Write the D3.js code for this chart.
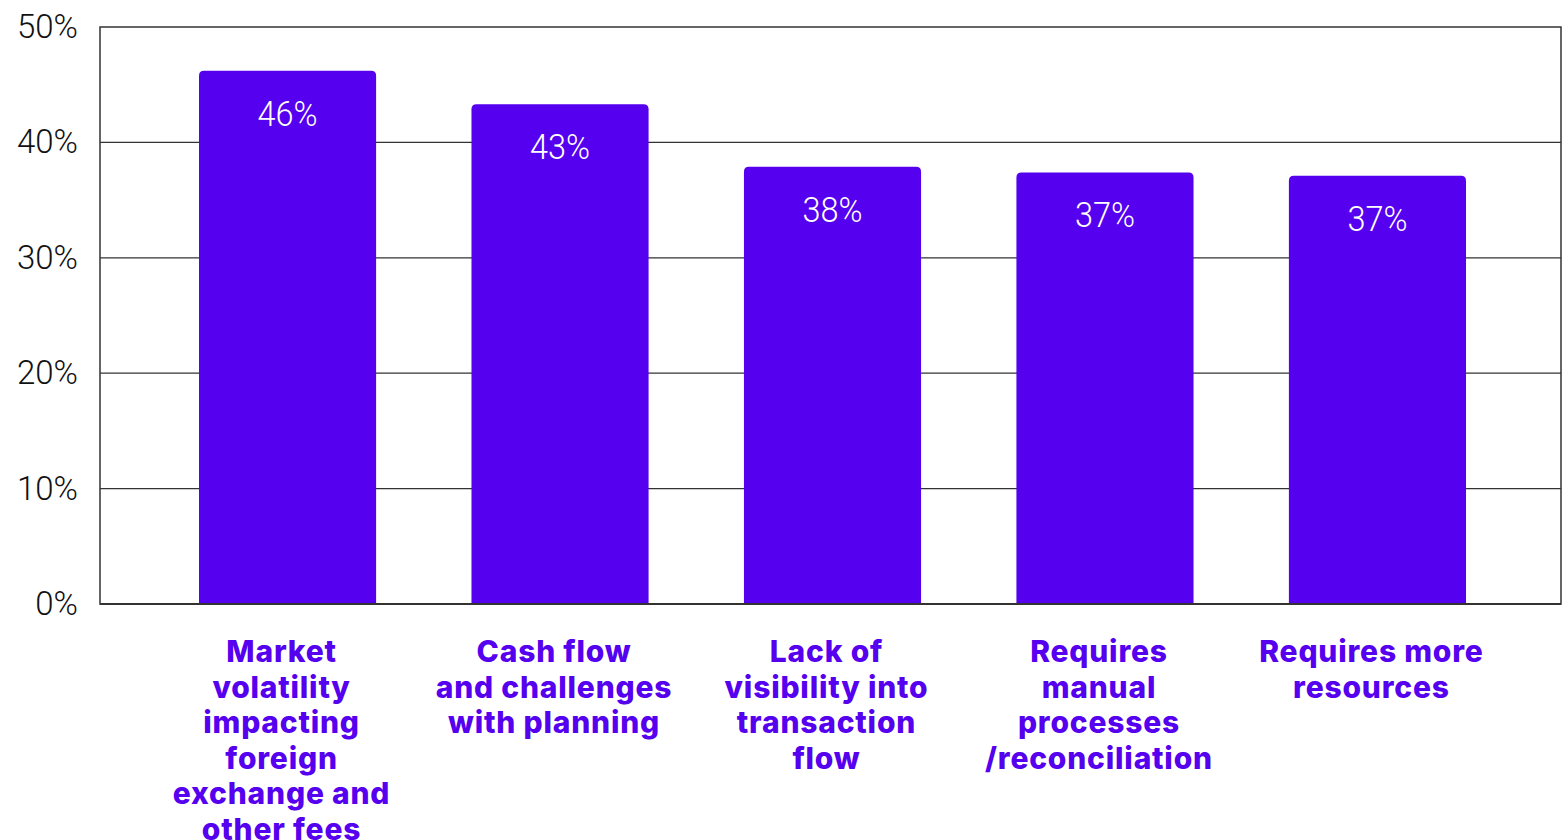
<!DOCTYPE html>
<html>
<head>
<meta charset="utf-8">
<script src="https://cdn.jsdelivr.net/npm/d3@7"></script>
<style>
  html, body { margin: 0; padding: 0; background: #fff; }
  svg { display: block; }
</style>
</head>
<body>
<svg id="chart" width="1568" height="840"></svg>
<script>
// Share of respondents naming each challenge
const categories = [
  ["Market", "volatility", "impacting", "foreign", "exchange and", "other fees"],
  ["Cash flow", "and challenges", "with planning"],
  ["Lack of", "visibility into", "transaction", "flow"],
  ["Requires", "manual", "processes", "/reconciliation"],
  ["Requires more", "resources"]
];
const values = [0.462, 0.433, 0.379, 0.374, 0.371];
const yTicks = [0, 0.1, 0.2, 0.3, 0.4, 0.5];

const purple = "#5500EE";
const svg = d3.select("#chart");
const plot = { left: 100, right: 1561, top: 27, bottom: 604 };

const x = d3.scaleBand()
  .domain(d3.range(categories.length))
  .range([plot.left + 2, plot.right + 2])
  .paddingInner(0.35)
  .paddingOuter(0.356);

const y = d3.scaleLinear()
  .domain([0, 0.5])
  .range([plot.bottom, plot.top]);

const pct = d3.format(".0%");

// Horizontal grid lines
svg.append("g")
  .selectAll("line")
  .data(yTicks.slice(1, -1))
  .join("line")
  .attr("x1", plot.left).attr("x2", plot.right)
  .attr("y1", d => y(d)).attr("y2", d => y(d))
  .attr("stroke", "#333").attr("stroke-width", 1.2);

// Bars with rounded top corners
const r = 5;
svg.append("g")
  .selectAll("path")
  .data(values)
  .join("path")
  .attr("fill", purple)
  .attr("d", (d, i) => {
    const x0 = x(i), x1 = x(i) + x.bandwidth();
    const y0 = y(d), yb = y(0);
    return `M${x0},${yb} L${x0},${y0 + r} Q${x0},${y0} ${x0 + r},${y0} ` +
           `L${x1 - r},${y0} Q${x1},${y0} ${x1},${y0 + r} L${x1},${yb} Z`;
  });

// Value labels inside bars
svg.append("g")
  .selectAll("text")
  .data(values)
  .join("text")
  .attr("x", (d, i) => x(i) + x.bandwidth() / 2)
  .attr("y", d => y(d) + 55)
  .attr("text-anchor", "middle")
  .attr("fill", "#fff")
  .style("font-family", "Roboto, sans-serif")
  .style("font-weight", 300)
  .style("font-size", "35px")
  .attr("textLength", 60)
  .attr("lengthAdjust", "spacingAndGlyphs")
  .text(d => pct(d));

// Frame around the plot area
svg.append("rect")
  .attr("x", plot.left).attr("y", plot.top)
  .attr("width", plot.right - plot.left)
  .attr("height", plot.bottom - plot.top)
  .attr("fill", "none")
  .attr("stroke", "#333")
  .attr("stroke-width", 1.5);
svg.append("line")
  .attr("x1", plot.left).attr("x2", plot.right)
  .attr("y1", plot.bottom).attr("y2", plot.bottom)
  .attr("stroke", "#333").attr("stroke-width", 2);

// Y axis tick labels
const yAxis = d3.axisLeft(y)
  .tickValues(yTicks)
  .tickFormat(pct)
  .tickSize(0)
  .tickPadding(22);
const gy = svg.append("g")
  .attr("transform", `translate(${plot.left},0)`)
  .call(yAxis);
gy.select(".domain").remove();
gy.selectAll("text")
  .attr("fill", "#111")
  .style("font-family", "Roboto, sans-serif")
  .style("font-weight", 300)
  .style("font-size", "33px");

// Category labels below the axis
const lineH = 35.5;
const cat = svg.append("g")
  .selectAll("text")
  .data(categories)
  .join("text")
  .attr("text-anchor", "middle")
  .attr("fill", purple)
  .style("font-family", "Inter, sans-serif")
  .style("font-weight", 800)
  .style("font-size", "30px")
  .style("letter-spacing", "0.8px");
cat.each(function(lines, i) {
  const cx = x(i) + x.bandwidth() / 2 - 6;
  d3.select(this).selectAll("tspan")
    .data(lines)
    .join("tspan")
    .attr("x", cx)
    .attr("y", (d, k) => 662 + k * lineH)
    .text(d => d);
});
</script>
</body>
</html>
